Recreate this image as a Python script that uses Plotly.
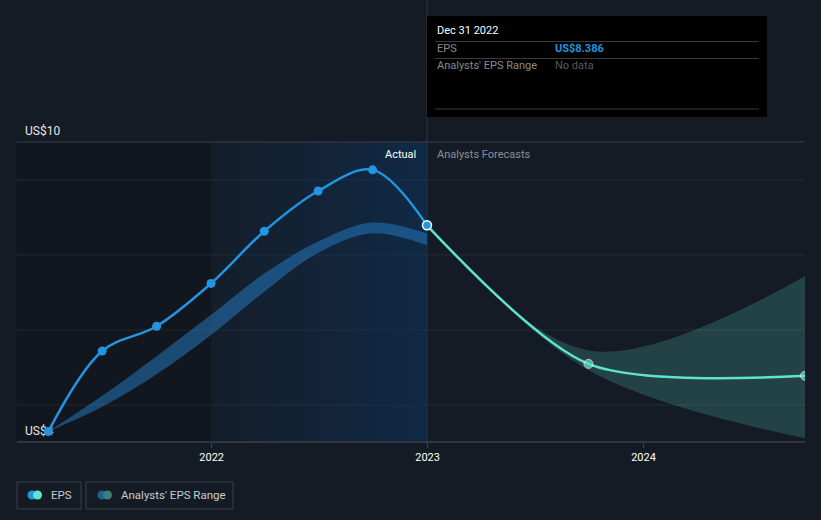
import plotly.graph_objects as go

# ---------------- data ----------------
actual_dates = ["2021-03-31", "2021-06-30", "2021-09-30", "2021-12-31",
                "2022-03-31", "2022-06-30", "2022-09-30", "2022-12-31"]
actual_eps = [4.39, 5.95, 6.43, 7.26, 8.27, 9.05, 9.46, 8.386]

range_dates = ["2021-03-31", "2021-06-30", "2021-09-30", "2021-12-31",
               "2022-03-31", "2022-06-30", "2022-09-30", "2022-12-31"]
range_high = [4.39, 5.08, 5.85, 6.65, 7.45, 8.07, 8.44, 8.23]
range_low = [4.39, 4.87, 5.50, 6.26, 7.10, 7.85, 8.23, 8.00]

fc_dates = ["2022-12-31", "2023-09-30", "2024-09-30"]
fc_eps = [8.386, 5.70, 5.47]
fc_high = [8.386, 5.96, 7.40]
fc_low = [8.386, 5.58, 4.26]

y_ticks = [4.186, 10]
y_ticktext = ["US$4", "US$10"]
x_range = ["2021-02-06", "2024-09-30"]
actual_start, actual_end = "2022-01-01", "2022-12-31"

BG = "#151b24"
BLUE = "#2394df"
TEAL = "#5fe3cf"

# pixel helpers for the fixed 821x520 canvas (plot area 17..805 x 142..442)
def px(x):
    return (x - 17) / 788.0
def py(y):
    return (442 - y) / 300.0

fig = go.Figure()

# actual-region gradient
fig.add_trace(go.Scatter(
    x=[actual_start, actual_end, actual_end, actual_start, actual_start],
    y=[y_ticks[0], y_ticks[0], y_ticks[1], y_ticks[1], y_ticks[0]],
    mode="lines", line=dict(width=0), fill="toself",
    fillgradient=dict(type="horizontal",
                      colorscale=[[0, "rgba(13,50,90,0.12)"], [1, "rgba(13,50,90,0.62)"]]),
    hoverinfo="skip", showlegend=False))

# analysts' range (past)
fig.add_trace(go.Scatter(x=range_dates, y=range_high, mode="lines",
                         line=dict(width=0, shape="spline"), hoverinfo="skip", showlegend=False))
fig.add_trace(go.Scatter(x=range_dates, y=range_low, mode="lines",
                         line=dict(width=0, shape="spline"), fill="tonexty",
                         fillcolor="rgba(35,125,200,0.5)", hoverinfo="skip", showlegend=False))

# analysts' range (forecast)
fig.add_trace(go.Scatter(x=fc_dates, y=fc_high, mode="lines",
                         line=dict(width=0, shape="spline"), hoverinfo="skip", showlegend=False))
fig.add_trace(go.Scatter(x=fc_dates, y=fc_low, mode="lines",
                         line=dict(width=0, shape="spline"), fill="tonexty",
                         fillcolor="rgba(95,227,207,0.2)", hoverinfo="skip", showlegend=False))

# forecast EPS
fig.add_trace(go.Scatter(x=fc_dates, y=fc_eps, mode="lines+markers",
                         line=dict(color=TEAL, width=2.5, shape="spline", smoothing=0.8),
                         marker=dict(size=[0, 9, 9], color=TEAL),
                         hoverinfo="skip", showlegend=False))

# actual EPS
n = len(actual_dates)
fig.add_trace(go.Scatter(x=actual_dates, y=actual_eps, mode="lines+markers",
                         line=dict(color=BLUE, width=2.5, shape="spline"),
                         marker=dict(size=9, color=BLUE,
                                     line=dict(color=[BLUE] * (n - 1) + ["white"],
                                               width=[0] * (n - 1) + [1.5])),
                         hoverinfo="skip", showlegend=False))

shapes = []
# darker past region
shapes.append(dict(type="rect", xref="x", yref="paper", x0=x_range[0], x1=actual_start,
                   y0=0, y1=1, fillcolor="rgba(0,0,0,0.13)", line=dict(width=0), layer="below"))
# gridlines
for gy in [180, 255, 330, 405]:
    shapes.append(dict(type="line", xref="paper", yref="paper", x0=0, x1=1, y0=py(gy), y1=py(gy),
                       line=dict(color="rgba(255,255,255,0.07)", width=1), layer="below"))
# top line and bottom axis line
shapes.append(dict(type="line", xref="paper", yref="paper", x0=0, x1=1, y0=1, y1=1,
                   line=dict(color="#3b4049", width=1)))
shapes.append(dict(type="line", xref="paper", yref="paper", x0=0, x1=1, y0=0, y1=0,
                   line=dict(color="#3b4049", width=1.5)))
# vertical hover line
shapes.append(dict(type="line", xref="x", yref="paper", x0=actual_end, x1=actual_end,
                   y0=0, y1=py(0), line=dict(color="#2c3643", width=1), layer="below"))
# tooltip box
shapes.append(dict(type="rect", xref="paper", yref="paper", x0=px(427), x1=px(767),
                   y0=py(117), y1=py(16), fillcolor="#000000", line=dict(width=0)))
for ly in [41.5, 58.5, 109]:
    shapes.append(dict(type="line", xref="paper", yref="paper", x0=px(435), x1=px(759),
                       y0=py(ly), y1=py(ly), line=dict(color="#3a3a3a", width=1)))
# legend boxes
shapes.append(dict(type="rect", xref="paper", yref="paper", x0=px(17), x1=px(81),
                   y0=py(509), y1=py(482), line=dict(color="#3a3f47", width=1), fillcolor=BG))
shapes.append(dict(type="rect", xref="paper", yref="paper", x0=px(86), x1=px(233),
                   y0=py(509), y1=py(482), line=dict(color="#3a3f47", width=1), fillcolor=BG))
# legend icons
def circ(cx, cy, r, col):
    return dict(type="circle", xref="paper", yref="paper", x0=px(cx - r), x1=px(cx + r),
                y0=py(cy + r), y1=py(cy - r), fillcolor=col, line=dict(width=0))
shapes.append(circ(32, 495, 4.5, BLUE))
shapes.append(circ(37.5, 495, 4.5, TEAL))
shapes.append(circ(102, 495, 4.5, "#1f5f8f"))
shapes.append(circ(107.5, 495, 4.5, "#3f7d7a"))

ann = []
def text(x, y, s, color, size=11, anchor="left"):
    ann.append(dict(xref="paper", yref="paper", x=px(x), y=py(y), text=s,
                    showarrow=False, xanchor=anchor, yanchor="middle",
                    font=dict(color=color, size=size, family="Roboto")))

text(418, 154, "Actual", "#ffffff", 11, "right")
text(435, 154, "Analysts Forecasts", "#8a8f96", 11, "left")
text(435, 31, "Dec 31 2022", "#ffffff", 11, "left")
text(435, 48.5, "EPS", "#8a8a8a", 11, "left")
text(553, 48.5, "<b>US$8.386</b>", BLUE, 11, "left")
text(435, 66, "Analysts' EPS Range", "#8a8a8a", 11, "left")
text(553, 66, "No data", "#5a5a5a", 11, "left")
text(49, 495, "EPS", "#c8cbd0", 11.5, "left")
text(119, 495, "Analysts' EPS Range", "#c8cbd0", 11.5, "left")

fig.update_layout(
    width=821, height=520,
    margin=dict(l=17, r=16, t=142, b=78),
    paper_bgcolor=BG, plot_bgcolor=BG,
    shapes=shapes, annotations=ann,
    showlegend=False,
    font=dict(family="Roboto", color="#ffffff"),
    xaxis=dict(type="date", range=x_range, showgrid=False, zeroline=False,
               tickvals=["2022-01-01", "2023-01-01", "2024-01-01"],
               ticktext=["2022", "2023", "2024"],
               ticks="outside", ticklen=5, tickcolor="#3b4049",
               tickfont=dict(color="#ffffff", size=11), showline=False, fixedrange=True),
    yaxis=dict(range=y_ticks, showgrid=False, zeroline=False, showline=False,
               tickvals=y_ticks, ticktext=y_ticktext, ticks="",
               ticklabelposition="inside top", ticklabeloverflow="allow",
               ticklabelstandoff=5, ticklabelshift=-3,
               tickfont=dict(color="#e8e8e8", size=12), layer="below traces", fixedrange=True),
)

fig.write_html("out.html")
